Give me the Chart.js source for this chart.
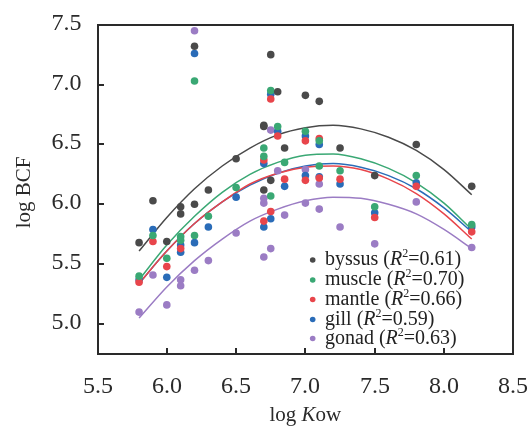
<!DOCTYPE html>
<html>
<head>
<meta charset="utf-8">
<script src="https://cdn.jsdelivr.net/npm/chart.js@4"></script>
<style>
  html, body { margin: 0; padding: 0; background: #fff; }
  #wrap { width: 531px; height: 430px; }
</style>
</head>
<body>
<div id="wrap"><canvas id="bcf-chart"></canvas></div>
<script>
// scatter values (log Kow, log BCF)
const byssusX = [5.8, 5.9, 6.0, 6.1, 6.1, 6.2, 6.2, 6.3, 6.5, 6.7, 6.7, 6.7, 6.75, 6.75, 6.8, 6.85, 7.0, 7.1, 7.25, 7.5, 7.8, 8.2];
const byssusY = [5.68, 6.03, 5.69, 5.98, 5.92, 7.32, 6.00, 6.12, 6.38, 6.66, 6.65, 6.12, 7.25, 6.20, 6.94, 6.47, 6.91, 6.86, 6.47, 6.24, 6.50, 6.15];

const muscleX = [5.8, 5.9, 6.0, 6.1, 6.1, 6.2, 6.2, 6.3, 6.5, 6.7, 6.7, 6.75, 6.75, 6.8, 6.85, 7.0, 7.1, 7.1, 7.25, 7.5, 7.8, 8.2];
const muscleY = [5.40, 5.74, 5.55, 5.73, 5.70, 7.03, 5.74, 5.90, 6.14, 6.47, 6.40, 6.95, 6.07, 6.65, 6.35, 6.61, 6.53, 6.32, 6.28, 5.98, 6.24, 5.83];

const mantleX = [5.8, 5.9, 6.0, 6.1, 6.7, 6.7, 6.75, 6.75, 6.8, 6.85, 7.0, 7.0, 7.1, 7.1, 7.25, 7.5, 7.8, 8.2];
const mantleY = [5.35, 5.69, 5.48, 5.63, 6.37, 5.86, 6.88, 5.94, 6.57, 6.21, 6.53, 6.20, 6.55, 6.22, 6.21, 5.89, 6.15, 5.77];

const gillX = [5.8, 5.9, 6.0, 6.1, 6.1, 6.2, 6.2, 6.3, 6.5, 6.7, 6.7, 6.75, 6.75, 6.8, 6.85, 7.0, 7.0, 7.1, 7.1, 7.25, 7.5, 7.8, 8.2];
const gillY = [5.37, 5.79, 5.39, 5.66, 5.60, 7.26, 5.68, 5.81, 6.06, 6.34, 5.81, 6.92, 5.88, 6.61, 6.15, 6.57, 6.24, 6.50, 6.23, 6.17, 5.93, 6.18, 5.81];

const gonadX = [5.8, 5.9, 6.0, 6.1, 6.1, 6.2, 6.2, 6.3, 6.5, 6.7, 6.7, 6.7, 6.75, 6.75, 6.8, 6.85, 7.0, 7.0, 7.1, 7.1, 7.25, 7.5, 7.8, 8.2];
const gonadY = [5.10, 5.41, 5.16, 5.37, 5.32, 7.45, 5.45, 5.53, 5.76, 6.05, 6.01, 5.56, 6.62, 5.63, 6.28, 5.91, 6.29, 6.01, 6.17, 5.96, 5.81, 5.67, 6.02, 5.64];

// fitted curves, read at these x positions
const fitX = [5.8, 6.0, 6.2, 6.4, 6.6, 6.8, 7.0, 7.2, 7.4, 7.6, 7.8, 8.0, 8.2];
const byssusFit = [5.61, 5.89, 6.13, 6.32, 6.47, 6.58, 6.64, 6.66, 6.63, 6.56, 6.45, 6.29, 6.08];
const muscleFit = [5.37, 5.66, 5.90, 6.10, 6.25, 6.35, 6.41, 6.42, 6.38, 6.30, 6.18, 6.01, 5.79];
const mantleFit = [5.34, 5.61, 5.84, 6.02, 6.17, 6.26, 6.31, 6.32, 6.29, 6.21, 6.09, 5.92, 5.71];
const gillFit = [5.34, 5.61, 5.84, 6.02, 6.16, 6.26, 6.32, 6.34, 6.31, 6.24, 6.13, 5.97, 5.77];
const gonadFit = [5.05, 5.31, 5.53, 5.71, 5.86, 5.96, 6.03, 6.06, 6.05, 6.00, 5.92, 5.79, 5.63];

const seriesNames = ["byssus", "muscle", "mantle", "gill", "gonad"];
const r2Labels = ["0.61", "0.70", "0.66", "0.59", "0.63"];
const xTicks = [5.5, 6.0, 6.5, 7.0, 7.5, 8.0, 8.5];
const yTicks = [5.0, 5.5, 6.0, 6.5, 7.0, 7.5];

const colors = ["#4a4a4a", "#3aa874", "#e8454b", "#2a6cb8", "#9b7cc4"];
const pointsX = [byssusX, muscleX, mantleX, gillX, gonadX];
const pointsY = [byssusY, muscleY, mantleY, gillY, gonadY];
const fits = [byssusFit, muscleFit, mantleFit, gillFit, gonadFit];

const serif = "'Liberation Serif', 'DejaVu Serif', serif";

function pairs(xs, ys) {
  return xs.map((x, i) => ({ x: x, y: ys[i] }));
}

const datasets = [];
for (let i = 0; i < seriesNames.length; i++) {
  datasets.push({
    type: "line",
    label: seriesNames[i] + " fit",
    order: 2,
    data: pairs(fitX, fits[i]),
    borderColor: colors[i],
    borderWidth: 1.5,
    pointRadius: 0,
    fill: false,
    cubicInterpolationMode: "monotone",
  });
}
for (let i = 0; i < seriesNames.length; i++) {
  datasets.push({
    type: "scatter",
    label: seriesNames[i],
    order: 1,
    data: pairs(pointsX[i], pointsY[i]),
    backgroundColor: colors[i],
    borderWidth: 0,
    pointRadius: 3.8,
  });
}

// frame, inward ticks, tick labels, axis titles and the legend
const decorations = {
  id: "decorations",
  afterDraw(chart) {
    const c = chart.ctx;
    const a = chart.chartArea;
    const xs = chart.scales.x;
    const ys = chart.scales.y;
    const L = Math.round(a.left), R = Math.round(a.right);
    const T = Math.round(a.top), B = Math.round(a.bottom);
    c.save();
    c.fillStyle = "#2a2a2a";
    c.fillRect(L - 1, T - 1, R - L + 2, 2);
    c.fillRect(L - 1, B - 1, R - L + 2, 2);
    c.fillRect(L - 1, T - 1, 2, B - T + 2);
    c.fillRect(R - 1, T - 1, 2, B - T + 2);

    c.font = "24px " + serif;
    c.textAlign = "center";
    c.textBaseline = "alphabetic";
    xTicks.forEach((v) => {
      const px = Math.round(xs.getPixelForValue(v));
      c.fillRect(px - 1, B - 6, 2, 6);
      c.fillText(v.toFixed(1), px, 393);
    });
    c.textAlign = "right";
    c.textBaseline = "middle";
    yTicks.forEach((v) => {
      const py = Math.round(ys.getPixelForValue(v));
      c.fillRect(L, py - 1, 6, 2);
      c.fillText(v.toFixed(1), L - 16.5, py - 1);
    });

    // x title: log Kow (K italic)
    c.textAlign = "left";
    c.textBaseline = "alphabetic";
    c.font = "21px " + serif;
    const p1 = "log ", p3 = "ow";
    const w1 = c.measureText(p1).width;
    const w3 = c.measureText(p3).width;
    c.font = "italic 21px " + serif;
    const w2 = c.measureText("K").width;
    const tx = (a.left + a.right) / 2 - (w1 + w2 + w3) / 2;
    c.font = "21px " + serif;
    c.fillText(p1, tx, 421);
    c.font = "italic 21px " + serif;
    c.fillText("K", tx + w1, 421);
    c.font = "21px " + serif;
    c.fillText(p3, tx + w1 + w2, 421);

    // y title
    c.save();
    c.translate(30, (a.top + a.bottom) / 2 + 3);
    c.rotate(-Math.PI / 2);
    c.textAlign = "center";
    c.font = "21px " + serif;
    c.fillText("log BCF", 0, 0);
    c.restore();

    // legend
    const rowY = [260, 280, 299.5, 319.5, 338.5];
    c.textAlign = "left";
    for (let i = 0; i < seriesNames.length; i++) {
      const y = rowY[i];
      c.fillStyle = colors[i];
      c.beginPath();
      c.arc(312.7, y, 2.8, 0, Math.PI * 2);
      c.fill();
      c.fillStyle = "#222";
      c.textBaseline = "middle";
      let x = 325;
      c.font = "20px " + serif;
      const s1 = seriesNames[i] + " (";
      c.fillText(s1, x, y);
      x += c.measureText(s1).width;
      c.font = "italic 20px " + serif;
      c.fillText("R", x, y);
      x += c.measureText("R").width;
      c.font = "12px " + serif;
      c.fillText("2", x, y - 6);
      x += c.measureText("2").width;
      c.font = "20px " + serif;
      c.fillText("=" + r2Labels[i] + ")", x, y);
    }
    c.restore();
  },
};

new Chart(document.getElementById("bcf-chart"), {
  type: "scatter",
  data: { datasets: datasets },
  options: {
    responsive: true,
    maintainAspectRatio: false,
    animation: false,
    layout: { padding: { top: 24.7, right: 17.7, left: 0, bottom: 0 } },
    scales: {
      x: {
        type: "linear",
        min: 5.5,
        max: 8.5,
        afterFit(scale) { scale.height = 76; },
        afterBuildTicks(scale) { scale.ticks = xTicks.map((v) => ({ value: v })); },
        ticks: { display: false },
        grid: { display: false, drawTicks: false },
        border: { display: false },
      },
      y: {
        type: "linear",
        min: 4.75,
        max: 7.5,
        afterFit(scale) { scale.width = 97.5; },
        afterBuildTicks(scale) { scale.ticks = yTicks.map((v) => ({ value: v })); },
        ticks: { display: false },
        grid: { display: false, drawTicks: false },
        border: { display: false },
      },
    },
    plugins: {
      legend: { display: false },
      tooltip: { enabled: false },
    },
  },
  plugins: [decorations],
});
</script>
</body>
</html>
